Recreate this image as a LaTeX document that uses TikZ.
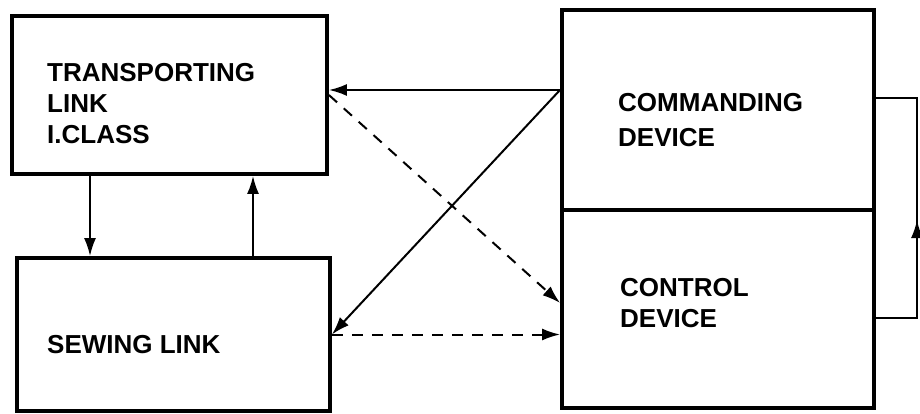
\documentclass[tikz,border=0pt]{standalone}
\usepackage{fontspec}
\setmainfont{Liberation Sans}
\usepackage{tikz}
\usetikzlibrary{arrows.meta}
\tikzstyle{blockbox}=[rectangle,draw=black,line width=3.8pt,
                      inner sep=0pt]
\tikzstyle{blocktext}=[anchor=base west,align=left,inner sep=0pt,
                       font=\bfseries\fontsize{26}{31}\selectfont]
\tikzstyle{conn}=[line width=2pt,
                  -{Latex[length=18pt,width=12pt]}]
\tikzstyle{dashconn}=[conn,dash pattern=on 11pt off 9pt]

\begin{document}
\begin{tikzpicture}[x=1pt,y=-1pt]
    \useasboundingbox (0,0) rectangle (920,414);
    % blocks
    \node (trans) at (169.5,95) [blockbox,minimum width=315pt,minimum height=158pt]{};
    \node (sew)   at (173.5,334.5) [blockbox,minimum width=313pt,minimum height=153pt]{};
    \node (cmd)   at (718,110) [blockbox,minimum width=312pt,minimum height=200pt]{};
    \node (ctrl)  at (718,309) [blockbox,minimum width=312pt,minimum height=198pt]{};
    % texts (placed at the baseline of the last line)
    \node (transtxt) at (47,144) [blocktext]{TRANSPORTING\\LINK\\I.CLASS};
    \node (sewtxt)   at (47,353) [blocktext]{SEWING LINK};
    \node (cmdtxt)   at (618,147) [blocktext]{COMMANDING\\[4pt]DEVICE};
    \node (ctrltxt)  at (620,327) [blocktext]{CONTROL\\DEVICE};
    % connectors
    \coordinate (cmdport) at (560,90);
    \coordinate (down) at (90,0);
    \coordinate (up) at (253,0);
    \coordinate (fbtop) at (917,98);
    \coordinate (fbbot) at (917,318);
    \draw[conn] (cmdport) -- (trans.east |- cmdport);
    \draw[conn] (cmdport) -- (sew.east);
    \draw[dashconn] (trans.east) -- ([yshift=6pt]ctrl.west);
    \draw[dashconn] (sew.east) -- (ctrl.west |- sew.east);
    \draw[conn] (down |- trans.south) -- (down |- sew.north);
    \draw[conn] (up |- sew.north) -- (up |- trans.south);
    \draw[line width=2pt] (ctrl.east |- fbbot) -- (fbbot) -- (fbtop) -- (cmd.east |- fbtop);
    \draw[conn] (fbbot) -- (917,220);
  \end{tikzpicture}
\end{document}
